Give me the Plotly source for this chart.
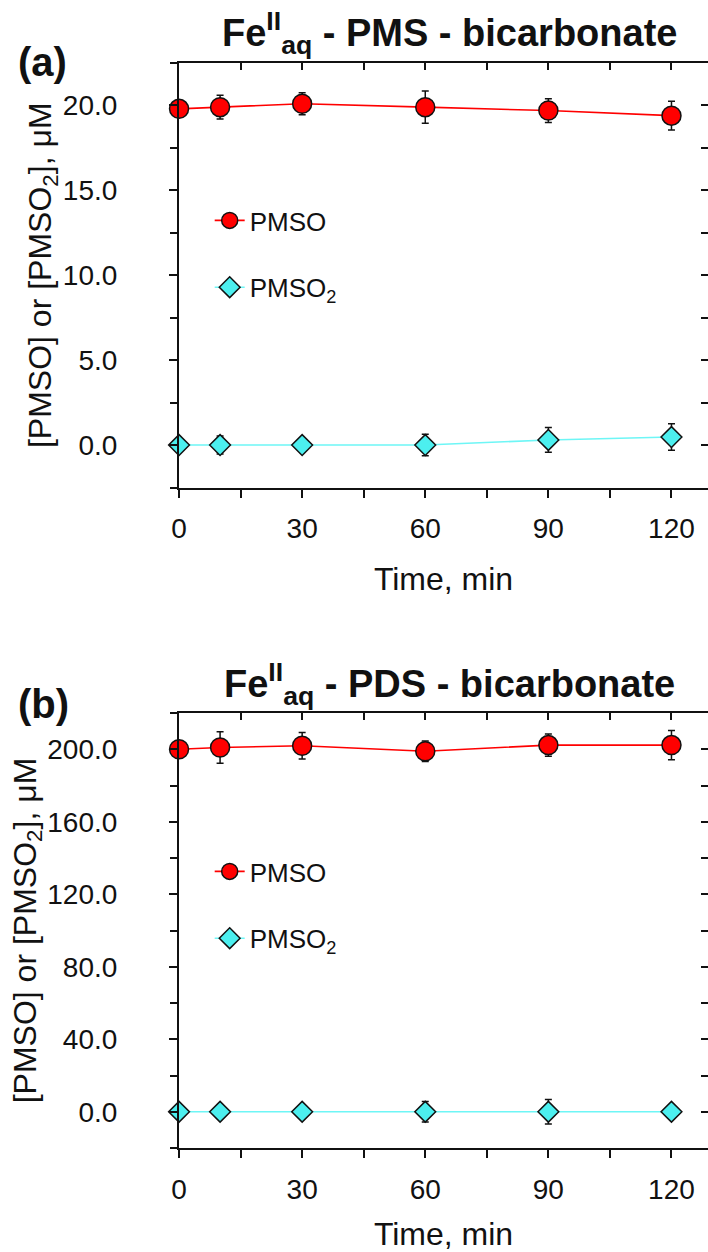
import plotly.graph_objects as go

# Sampling times (min)
time_min = [0, 10, 30, 60, 90, 120]

# Panel (a): Fe(II)aq - PMS - bicarbonate
pms_pmso = [19.8, 19.9, 20.1, 19.9, 19.7, 19.4]
pms_pmso_err = [0.35, 0.7, 0.65, 0.95, 0.7, 0.85]
pms_pmso2 = [0.0, 0.0, 0.0, 0.0, 0.3, 0.47]
pms_pmso2_err = [0.2, 0.53, 0.2, 0.63, 0.73, 0.78]

# Panel (b): Fe(II)aq - PDS - bicarbonate
pds_pmso = [200.0, 201.0, 201.9, 198.9, 202.3, 202.3]
pds_pmso_err = [3.0, 8.7, 7.3, 5.7, 6.1, 8.1]
pds_pmso2 = [0.0, 0.0, 0.0, 0.0, 0.0, 0.0]
pds_pmso2_err = [1.0, 1.0, 1.0, 5.6, 6.8, 1.0]

x_ticks = [0, 30, 60, 90, 120]

W, H = 708, 1252
FONT = "Arial, Liberation Sans, sans-serif"
RED = "#FF0000"
CYAN = "#4CEFEF"
CYAN_LINE = "#6EF6F6"
INK = "#111111"

fig = go.Figure()


def add_series(xa, ya, y, err, name, color, line_color, symbol, size, legend):
    fig.add_trace(go.Scatter(
        x=time_min, y=y, name=name, mode="lines+markers",
        xaxis=xa, yaxis=ya, legend=legend, legendgroup=legend + name,
        line=dict(color=line_color, width=1.6),
        marker=dict(color=color, symbol=symbol, size=size,
                    line=dict(color=INK, width=1.5)),
        error_y=dict(type="data", array=err, visible=True,
                     color=INK, thickness=1.5, width=3.5),
        cliponaxis=False,
    ))


add_series("x", "y", pms_pmso, pms_pmso_err, "PMSO", RED, RED, "circle", 19, "legend")
add_series("x", "y", pms_pmso2, pms_pmso2_err, "PMSO<sub>2</sub>", CYAN, CYAN_LINE,
           "diamond", 16, "legend")
add_series("x2", "y2", pds_pmso, pds_pmso_err, "PMSO", RED, RED, "circle", 19, "legend2")
add_series("x2", "y2", pds_pmso2, pds_pmso2_err, "PMSO<sub>2</sub>", CYAN, CYAN_LINE,
           "diamond", 16, "legend2")

# empty traces so the mirrored (top / right) axes are drawn
for xa, ya in (("x3", "y3"), ("x4", "y4")):
    fig.add_trace(go.Scatter(x=[], y=[], xaxis=xa, yaxis=ya, showlegend=False,
                             hoverinfo="skip"))

x_dom = [173 / W, 1.0]
x_rng = [0, 128.9]
ya_dom = [1 - 487.5 / H, 1 - 63 / H]
yb_dom = [1 - 1148 / H, 1 - 713 / H]
ya_rng = [-2.5, 22.5]
yb_rng = [-20, 220]

tick_font = dict(family=FONT, size=28, color=INK)
title_font = dict(family=FONT, size=32, color=INK)


def bottom_x(anchor):
    return dict(domain=x_dom, range=x_rng, anchor=anchor, tickmode="array",
                tickvals=x_ticks, ticks="outside", ticklen=8, tickwidth=2,
                tickcolor=INK, showline=True, linewidth=2.2, linecolor=INK,
                showgrid=False, zeroline=False, tickfont=tick_font,
                ticklabelstandoff=7,
                minor=dict(dtick=15, tick0=0, ticks="outside", ticklen=8,
                           tickwidth=2, tickcolor=INK),
                title=dict(text="Time, min", font=title_font, standoff=24))


def top_x(anchor, over):
    return dict(domain=x_dom, range=x_rng, anchor=anchor, overlaying=over,
                side="top", tickmode="array", tickvals=x_ticks, ticks="inside",
                ticklen=7, tickwidth=2, tickcolor=INK, showline=True,
                linewidth=2.2, linecolor=INK, showgrid=False, zeroline=False,
                showticklabels=False,
                minor=dict(dtick=15, tick0=0, ticks="inside", ticklen=7,
                           tickwidth=2, tickcolor=INK))


def left_y(anchor, dom, rng, dtick, mdtick):
    return dict(domain=dom, range=rng, anchor=anchor, dtick=dtick, tick0=0,
                tickformat=".1f", ticks="outside", ticklen=8, tickwidth=2,
                tickcolor=INK, showline=True, linewidth=2.2,
                linecolor=INK, showgrid=False, zeroline=False,
                tickfont=tick_font, ticklabelstandoff=46,
                minor=dict(dtick=mdtick, tick0=0, ticks="outside", ticklen=7,
                           tickwidth=2, tickcolor=INK),
                title=dict(text="[PMSO] or [PMSO<sub>2</sub>], μM", font=title_font,
                           standoff=0))


def right_y(anchor, over, dom, rng, dtick, mdtick):
    return dict(domain=dom, range=rng, anchor=anchor, overlaying=over, side="right",
                dtick=dtick, tick0=0, ticks="inside", ticklen=7, tickwidth=2,
                tickcolor=INK, showline=False, showgrid=False, zeroline=False,
                showticklabels=False,
                minor=dict(dtick=mdtick, tick0=0, ticks="inside", ticklen=7,
                           tickwidth=2, tickcolor=INK))


legend_common = dict(font=dict(family=FONT, size=26, color=INK),
                     bgcolor="rgba(0,0,0,0)", tracegroupgap=30,
                     xanchor="left", yanchor="top", itemsizing="trace")

fig.update_layout(
    width=W, height=H, autosize=False,
    margin=dict(l=0, r=0, t=0, b=0),
    paper_bgcolor="white", plot_bgcolor="white",
    font=dict(family=FONT, color=INK),
    xaxis=bottom_x("y"), yaxis=left_y("x", ya_dom, ya_rng, 5, 2.5),
    xaxis2=bottom_x("y2"), yaxis2=left_y("x2", yb_dom, yb_rng, 40, 20),
    xaxis3=top_x("y", "x"), yaxis3=right_y("x", "y", ya_dom, ya_rng, 5, 2.5),
    xaxis4=top_x("y2", "x2"), yaxis4=right_y("x2", "y2", yb_dom, yb_rng, 40, 20),
    legend=dict(x=204 / W, y=1 - 197 / H, **legend_common),
    legend2=dict(x=204 / W, y=1 - 848 / H, **legend_common),
    annotations=[
        dict(text="<b>Fe<sup>II</sup><sub>aq</sub> - PMS - bicarbonate</b>",
             x=447 / W, y=1 - 33 / H, xref="paper", yref="paper",
             xanchor="center", yanchor="middle", showarrow=False,
             font=dict(family=FONT, size=38, color=INK)),
        dict(text="<b>(a)</b>", x=8 / W, y=1 - 62 / H, xref="paper", yref="paper",
             xanchor="left", yanchor="middle", showarrow=False,
             font=dict(family=FONT, size=40, color=INK)),
        dict(text="<b>Fe<sup>II</sup><sub>aq</sub> - PDS - bicarbonate</b>",
             x=447 / W, y=1 - 684 / H, xref="paper", yref="paper",
             xanchor="center", yanchor="middle", showarrow=False,
             font=dict(family=FONT, size=38, color=INK)),
        dict(text="<b>(b)</b>", x=8 / W, y=1 - 704 / H, xref="paper", yref="paper",
             xanchor="left", yanchor="middle", showarrow=False,
             font=dict(family=FONT, size=40, color=INK)),
    ],
)

fig.write_html("out.html")
